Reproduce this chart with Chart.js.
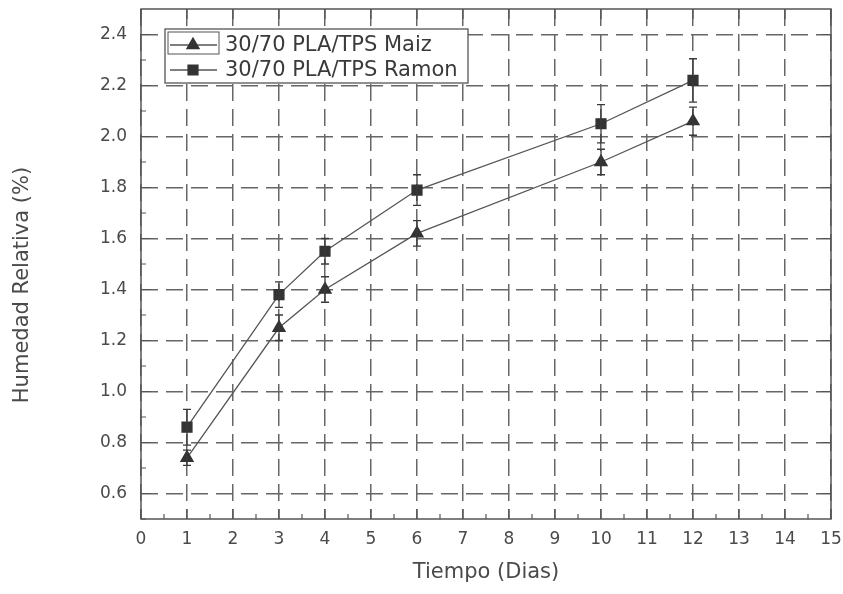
<!DOCTYPE html>
<html lang="es">
<head>
  <meta charset="UTF-8" />
  <title>Humedad Relativa</title>
  <script src="https://cdn.jsdelivr.net/npm/chart.js"></script>
  <style>
    html, body { margin: 0; padding: 0; background: #fff; }
    #wrap { width: 843px; height: 594px; }
  </style>
</head>
<body>
  <div id="wrap"><canvas id="humChart" width="843" height="594"></canvas></div>

  <script>
    // Humedad relativa (%) vs tiempo (dias)
    const days = [1, 3, 4, 6, 10, 12];
    const maiz = [0.74, 1.25, 1.40, 1.62, 1.90, 2.06];
    const ramon = [0.86, 1.38, 1.55, 1.79, 2.05, 2.22];
    const maizErr = [0.03, 0.05, 0.05, 0.05, 0.05, 0.055];
    const ramonErr = [0.07, 0.05, 0.05, 0.06, 0.075, 0.085];

    const seriesLabels = ['30/70 PLA/TPS Maiz', '30/70 PLA/TPS Ramon'];
    const xTicks = [0, 1, 2, 3, 4, 5, 6, 7, 8, 9, 10, 11, 12, 13, 14, 15];
    const yTicks = [0.6, 0.8, 1.0, 1.2, 1.4, 1.6, 1.8, 2.0, 2.2, 2.4];
    const xTitle = 'Tiempo (Dias)';
    const yTitle = 'Humedad Relativa (%)';

    const FONT = 'DejaVu Sans';
    const INK = '#4a4a4a';
    const GRID = '#666';
    const MARK = '#333';

    function toPoints(ys) {
      return days.map((d, i) => ({ x: d, y: ys[i] }));
    }

    function drawMarker(ctx, style, x, y) {
      ctx.fillStyle = MARK;
      ctx.strokeStyle = MARK;
      Chart.helpers.drawPoint(ctx, { pointStyle: style, radius: 7, borderWidth: 1, rotation: 0 }, x, y);
    }

    // no extra room for edge labels, the plot box is fixed by layout padding
    function noEdgePadding(s) {
      s.paddingLeft = 0;
      s.paddingRight = 0;
      s.paddingTop = 0;
      s.paddingBottom = 0;
    }

    // frame + inward tick marks
    const framePlugin = {
      id: 'frame',
      beforeDatasetsDraw(chart) {
        const { ctx, chartArea: a, scales } = chart;
        ctx.save();
        ctx.strokeStyle = '#555';
        ctx.lineWidth = 1.5;
        ctx.strokeRect(a.left, a.top, a.right - a.left, a.bottom - a.top);
        ctx.lineWidth = 1.2;
        ctx.beginPath();
        for (let v = 0.5; v <= 15; v += 1) {
          const x = scales.x.getPixelForValue(v);
          ctx.moveTo(x, a.bottom); ctx.lineTo(x, a.bottom - 5);
        }
        xTicks.forEach(v => {
          const x = scales.x.getPixelForValue(v);
          ctx.moveTo(x, a.bottom); ctx.lineTo(x, a.bottom - 10);
          ctx.moveTo(x, a.top); ctx.lineTo(x, a.top + 10);
        });
        for (let v = 0.5; v < 2.5; v += 0.2) {
          const y = scales.y.getPixelForValue(v);
          ctx.moveTo(a.left, y); ctx.lineTo(a.left + 5, y);
        }
        yTicks.forEach(v => {
          const y = scales.y.getPixelForValue(v);
          ctx.moveTo(a.left, y); ctx.lineTo(a.left + 10, y);
          ctx.moveTo(a.right, y); ctx.lineTo(a.right - 10, y);
        });
        ctx.stroke();
        ctx.restore();
      }
    };

    // vertical error bars with caps
    const errorBars = {
      id: 'errorBars',
      afterDatasetsDraw(chart) {
        const { ctx, scales } = chart;
        ctx.save();
        ctx.strokeStyle = '#3a3a3a';
        ctx.lineWidth = 1.3;
        chart.data.datasets.forEach(ds => {
          ds.data.forEach((p, i) => {
            const e = ds.errors[i];
            const x = scales.x.getPixelForValue(p.x);
            const yTop = scales.y.getPixelForValue(p.y + e);
            const yBot = scales.y.getPixelForValue(p.y - e);
            ctx.beginPath();
            ctx.moveTo(x, yTop); ctx.lineTo(x, yBot);
            ctx.moveTo(x - 4, yTop); ctx.lineTo(x + 4, yTop);
            ctx.moveTo(x - 4, yBot); ctx.lineTo(x + 4, yBot);
            ctx.stroke();
          });
        });
        ctx.restore();
      }
    };

    // boxed legend inside the plot and the rotated y title
    const legendBox = {
      id: 'legendBox',
      afterDraw(chart) {
        const { ctx } = chart;
        ctx.save();
        ctx.fillStyle = '#fff';
        ctx.fillRect(165, 29, 303, 54);
        ctx.strokeStyle = '#555';
        ctx.lineWidth = 1.3;
        ctx.strokeRect(165, 29, 303, 54);
        ctx.lineWidth = 1;
        ctx.strokeRect(168, 32, 51, 22);

        chart.data.datasets.forEach((ds, i) => {
          const y = 45 + i * 25;
          ctx.strokeStyle = '#555';
          ctx.lineWidth = 1.3;
          ctx.beginPath();
          ctx.moveTo(170, y); ctx.lineTo(217, y);
          ctx.stroke();
          drawMarker(ctx, ds.pointStyle, 193, y);
          ctx.fillStyle = '#3a3a3a';
          ctx.font = '21px "' + FONT + '"';
          ctx.textAlign = 'left';
          ctx.textBaseline = 'middle';
          ctx.fillText(ds.label, 225, y + 1);
        });

        ctx.translate(23, 285);
        ctx.rotate(-Math.PI / 2);
        ctx.fillStyle = INK;
        ctx.font = '21px "' + FONT + '"';
        ctx.textAlign = 'center';
        ctx.textBaseline = 'middle';
        ctx.fillText(yTitle, 0, 0);
        ctx.restore();
      }
    };

    const ctx = document.getElementById('humChart').getContext('2d');

    new Chart(ctx, {
      type: 'line',
      data: {
        datasets: [
          {
            label: seriesLabels[0],
            data: toPoints(maiz),
            errors: maizErr,
            borderColor: '#555',
            borderWidth: 1.3,
            pointStyle: 'triangle',
            pointRadius: 7,
            pointBackgroundColor: MARK,
            pointBorderColor: MARK,
            fill: false,
            tension: 0
          },
          {
            label: seriesLabels[1],
            data: toPoints(ramon),
            errors: ramonErr,
            borderColor: '#555',
            borderWidth: 1.3,
            pointStyle: 'rect',
            pointRadius: 7,
            pointBackgroundColor: MARK,
            pointBorderColor: MARK,
            fill: false,
            tension: 0
          }
        ]
      },
      options: {
        responsive: false,
        animation: false,
        layout: { padding: { top: 9, right: 12, left: 0, bottom: 0 } },
        plugins: {
          legend: { display: false },
          tooltip: { enabled: false }
        },
        scales: {
          x: {
            type: 'linear',
            min: 0,
            max: 15,
            afterBuildTicks: s => { s.ticks = xTicks.map(v => ({ value: v })); },
            afterFit: s => { s.height = 75; noEdgePadding(s); },
            grid: { color: GRID, lineWidth: 1.5, drawTicks: false },
            border: { display: false, dash: [17, 8] },
            ticks: {
              color: INK,
              font: { family: FONT, size: 17 },
              padding: 10,
              maxRotation: 0,
              autoSkip: false
            },
            title: {
              display: true,
              text: xTitle,
              color: INK,
              font: { family: FONT, size: 21 },
              padding: { top: 0, bottom: 9 }
            }
          },
          y: {
            type: 'linear',
            min: 0.5,
            max: 2.5,
            afterBuildTicks: s => { s.ticks = yTicks.map(v => ({ value: v })); },
            afterFit: s => { s.width = 141; noEdgePadding(s); },
            grid: { color: GRID, lineWidth: 1.5, drawTicks: false },
            border: { display: false, dash: [17, 8] },
            ticks: {
              color: INK,
              font: { family: FONT, size: 17 },
              padding: 14,
              callback: v => v.toFixed(1)
            }
          }
        }
      },
      plugins: [framePlugin, errorBars, legendBox]
    });
  </script>
</body>
</html>
